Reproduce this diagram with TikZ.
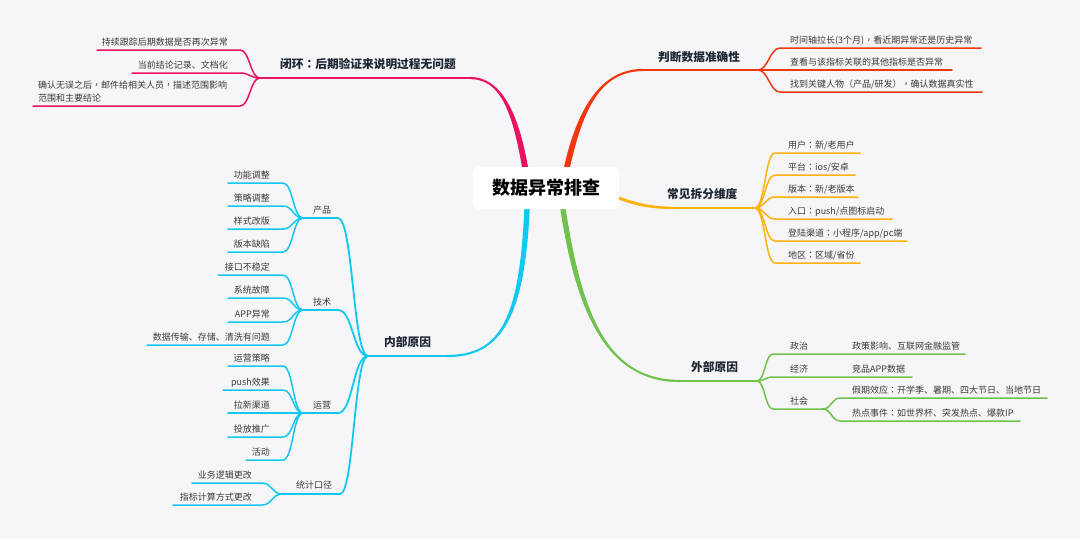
\documentclass[tikz,border=0pt]{standalone}
\usepackage{fontspec}
\setmainfont{Noto Sans CJK SC}
\newfontfamily\tcf{Noto Sans CJK TC}
\newcommand\pcolon{{\tcf ：}}
\newcommand\pcomma{{\tcf ，}}
\usetikzlibrary{calc}
\definecolor{bg}{HTML}{F6F6F8}
\definecolor{cpink}{HTML}{E9125C}
\definecolor{cred}{HTML}{F0370F}
\definecolor{corange}{HTML}{FCB20A}
\definecolor{cgreen}{HTML}{70C24C}
\definecolor{ccyan}{HTML}{12C8F0}
\definecolor{txt}{HTML}{3A3A3A}
\definecolor{ttl}{HTML}{1F2633}
% left leaf: name, colour, fork, underline start, underline end, y, text right, text
\newcommand\leafL[8]{%
  \coordinate (#1s) at (#4,#6);
  \coordinate (#1e) at (#5,#6);
  \node[leaf,anchor=base east] (#1) at (#7,#6-5) {#8};
  \draw[leafline,#2] (#3) .. controls +(-10,0) and +(10,0) .. (#1e) -- (#1s);}
% right leaf: name, colour, fork, underline start, underline end, y, text left, text
\newcommand\leafR[8]{%
  \coordinate (#1s) at (#4,#6);
  \coordinate (#1e) at (#5,#6);
  \node[leaf,anchor=base west] (#1) at (#7,#6-5) {#8};
  \draw[leafline,#2] (#3) .. controls +(10,0) and +(-10,0) .. (#1s) -- (#1e);}
% tapered main branch
\newcommand\branchfill[7]{%
  \fill[#1] ($(#2)+(#6)$) .. controls +(#4) and +(#5) .. ($(#3)+(#7)$) -- ($(#3)-(#7)$) .. controls +(#5) and +(#4) .. ($(#2)-(#6)$) -- cycle;}
\begin{document}
\begin{tikzpicture}[x=1pt,y=-1pt,
  leaf/.style={font=\fontsize{9}{13}\selectfont, text=txt, inner sep=0pt},
  leafline/.style={line width=1.5pt, line cap=round},
  subline/.style={line width=1.8pt, line cap=round},
  mainline/.style={line width=2.2pt, line cap=round},
  mainlbl/.style={font=\fontsize{11.7}{14}\selectfont\bfseries, text=ttl, inner sep=0pt},
  rootbox/.style={fill=white, rounded corners=5pt, minimum width=146pt, minimum height=42pt, inner sep=0pt, font=\fontsize{18}{22}\selectfont\bfseries, text=black}]
\useasboundingbox (0,0) rectangle (1080,539);
\fill[bg] (0,0) rectangle (1080,539);

% ---------- main branch coordinates ----------
\coordinate (pA) at (525,167); \coordinate (pB) at (470,78);  \coordinate (pF) at (260,78);
\coordinate (rA) at (567,167); \coordinate (rB) at (643,70);  \coordinate (rF) at (758,70);
\coordinate (oA) at (619,198); \coordinate (oB) at (680,208); \coordinate (oF) at (755,208);
\coordinate (gA) at (563,209); \coordinate (gB) at (680,381); \coordinate (gF) at (757,381);
\coordinate (cA) at (527,209); \coordinate (cB) at (447,356); \coordinate (cF) at (368,356);

\branchfill{cpink}{pA}{pB}{-10,-57}{30,0}{3,0}{0,-1.1}
\draw[mainline,cpink] (pB) -- (pF);
\branchfill{cred}{rA}{rB}{13,-57}{-43,0}{3,0}{0,1.1}
\draw[mainline,cred] (rB) -- (rF);
\branchfill{corange}{oA}{oB}{21,8}{-25,0}{0,1.6}{0,1.1}
\draw[mainline,corange] (oB) -- (oF);
\branchfill{cgreen}{gA}{gB}{17,111}{-70,0}{2.7,0}{0,-1.1}
\draw[mainline,cgreen] (gB) -- (gF);
\branchfill{ccyan}{cA}{cB}{-5,111}{53,0}{2.7,0}{0,1.1}
\draw[mainline,ccyan] (cB) -- (cF);

% ---------- root ----------
\node[rootbox] (root) at (546,188) {数据异常排查};

% ---------- main labels ----------
\node[mainlbl,anchor=base west] (lpink) at (280,68.5) {闭环\pcolon 后期验证来说明过程无问题};
\node[mainlbl,anchor=base west] (lred) at (658,61) {判断数据准确性};
\node[mainlbl,anchor=base west] (lorange) at (667,198) {常见拆分维度};
\node[mainlbl,anchor=base west] (lgreen) at (691,371) {外部原因};
\node[mainlbl,anchor=base west] (lcyan) at (384,346) {内部原因};

% ---------- pink leaves ----------
\leafL{p1}{cpink}{pF}{97}{240}{50}{228}{持续跟踪后期数据是否再次异常}
\leafL{p2}{cpink}{pF}{132}{240}{73}{228}{当前结论记录、文档化}
\coordinate (p3s) at (33,106); \coordinate (p3e) at (240,106);
\node[leaf,align=left,anchor=north west] (p3) at (38,81) {确认无误之后\pcomma 邮件给相关人员\pcomma 描述范围影响\\范围和主要结论};
\draw[leafline,cpink] (pF) .. controls +(-10,0) and +(10,0) .. (p3e) -- (p3s);

% ---------- red leaves ----------
\leafR{r1}{cred}{rF}{780}{981}{48}{790}{时间轴拉长(3个月)\pcomma 看近期异常还是历史异常}
\leafR{r2}{cred}{rF}{780}{952}{70}{790}{查看与该指标关联的其他指标是否异常}
\leafR{r3}{cred}{rF}{780}{982}{92}{790}{找到关键人物（产品/研发）\pcomma 确认数据真实性}

% ---------- orange leaves ----------
\leafR{o1}{corange}{oF}{775}{860}{153}{788}{用户\pcolon 新/老用户}
\leafR{o2}{corange}{oF}{775}{855}{175}{788}{平台\pcolon ios/安卓}
\leafR{o3}{corange}{oF}{775}{858}{197}{788}{版本\pcolon 新/老版本}
\leafR{o4}{corange}{oF}{775}{892}{219}{788}{入口\pcolon push/点图标启动}
\leafR{o5}{corange}{oF}{775}{907}{241}{788}{登陆渠道\pcolon 小程序/app/pc端}
\leafR{o6}{corange}{oF}{775}{860}{263}{788}{地区\pcolon 区域/省份}

% ---------- green ----------
\node[leaf,anchor=base west] (g1) at (790,349) {政治};
\node[leaf,anchor=base west] (g1a) at (852,349) {政策影响、互联网金融监管};
\coordinate (g1s) at (773,354); \coordinate (g1e) at (840,354); \coordinate (g1ae) at (965,354);
\draw[leafline,cgreen] (gF) .. controls +(8,0) and +(-8,0) .. (g1s) -- (g1e) -- (g1ae);
\node[leaf,anchor=base west] (g2) at (790,372) {经济};
\node[leaf,anchor=base west] (g2a) at (852,372) {竞品APP数据};
\coordinate (g2s) at (773,377); \coordinate (g2e) at (840,377); \coordinate (g2ae) at (912,377);
\draw[leafline,cgreen] (gF) .. controls +(8,0) and +(-8,0) .. (g2s) -- (g2e) -- (g2ae);
\node[leaf,anchor=base west] (g3) at (790,404) {社会};
\coordinate (g3s) at (773,409); \coordinate (g3F) at (823,409);
\draw[leafline,cgreen] (gF) .. controls +(8,0) and +(-8,0) .. (g3s) -- (g3F);
\node[leaf,anchor=base west] (g3a) at (852,393) {假期效应\pcolon 开学季、暑期、四大节日、当地节日};
\coordinate (g3as) at (840,398); \coordinate (g3ae) at (1047,398);
\draw[leafline,cgreen] (g3F) .. controls +(8,0) and +(-8,0) .. (g3as) -- (g3ae);
\node[leaf,anchor=base west] (g3b) at (852,416) {热点事件\pcolon 如世界杯、突发热点、爆款IP};
\coordinate (g3bs) at (840,421); \coordinate (g3be) at (1020,421);
\draw[leafline,cgreen] (g3F) .. controls +(8,0) and +(-8,0) .. (g3bs) -- (g3be);

% ---------- cyan groups ----------
\node[leaf,anchor=base west] (cp) at (313,213) {产品};
\coordinate (cpF) at (303,218); \coordinate (cpE) at (338,218);
\draw[subline,ccyan] (cF) .. controls +(-15,0) and +(15,0) .. (cpE) -- (cpF);
\node[leaf,anchor=base west] (ct) at (313,305) {技术};
\coordinate (ctF) at (303,310); \coordinate (ctE) at (338,310);
\draw[subline,ccyan] (cF) .. controls +(-15,0) and +(15,0) .. (ctE) -- (ctF);
\node[leaf,anchor=base west] (co) at (313,408) {运营};
\coordinate (coF) at (303,413); \coordinate (coE) at (338,413);
\draw[subline,ccyan] (cF) .. controls +(-15,0) and +(15,0) .. (coE) -- (coF);
\node[leaf,anchor=base west] (cs) at (296,488.5) {统计口径};
\coordinate (csF) at (282,494); \coordinate (csE) at (340,494);
\draw[subline,ccyan] (cF) .. controls +(-14,0) and +(14,0) .. (csE) -- (csF);

% 产品
\leafL{a1}{ccyan}{cpF}{228}{283}{183}{270}{功能调整}
\leafL{a2}{ccyan}{cpF}{228}{283}{206}{270}{策略调整}
\leafL{a3}{ccyan}{cpF}{228}{283}{229}{270}{样式改版}
\leafL{a4}{ccyan}{cpF}{228}{283}{252}{270}{版本缺陷}
% 技术
\leafL{b1}{ccyan}{ctF}{218}{283}{275}{270}{接口不稳定}
\leafL{b2}{ccyan}{ctF}{228}{283}{298}{270}{系统故障}
\leafL{b3}{ccyan}{ctF}{228}{283}{322}{270}{APP异常}
\leafL{b4}{ccyan}{ctF}{147}{283}{345}{270}{数据传输、存储、清洗有问题}
% 运营
\leafL{d1}{ccyan}{coF}{228}{283}{366}{270}{运营策略}
\leafL{d2}{ccyan}{coF}{223}{283}{390}{270}{push效果}
\leafL{d3}{ccyan}{coF}{228}{283}{413}{270}{拉新渠道}
\leafL{d4}{ccyan}{coF}{228}{283}{437}{270}{投放推广}
\leafL{d5}{ccyan}{coF}{246}{283}{460}{270}{活动}
% 统计口径
\leafL{e1}{ccyan}{csF}{192}{262}{483}{252}{业务逻辑更改}
\leafL{e2}{ccyan}{csF}{173}{262}{505}{252}{指标计算方式更改}
\end{tikzpicture}
\end{document}
